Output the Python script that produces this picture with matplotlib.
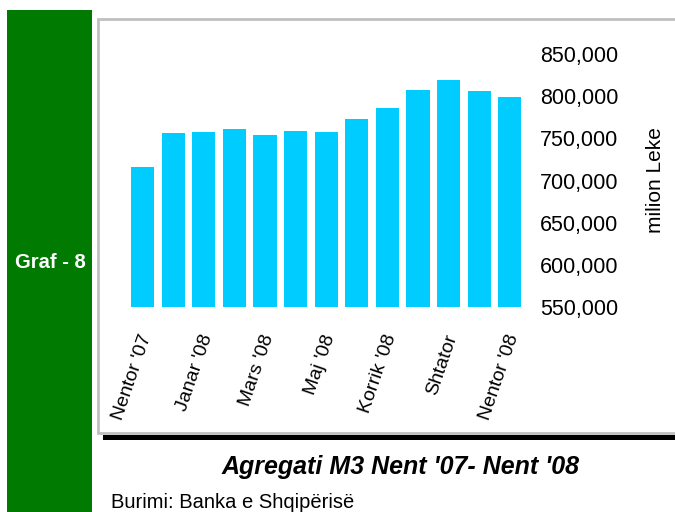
import matplotlib.pyplot as plt
import matplotlib.transforms as mtransforms
from matplotlib.patches import Rectangle
from matplotlib.ticker import FuncFormatter
import numpy as np

months = ["Nentor '07", "Dhjetor '07", "Janar '08", "Shkurt '08", "Mars '08", "Prill '08",
          "Maj '08", "Qershor '08", "Korrik '08", "Gusht '08", "Shtator", "Tetor '08", "Nentor '08"]
m3 = [716000, 756000, 757500, 761000, 754000, 758500, 757500,
      773000, 786000, 807500, 819000, 806000, 799000]
yticks = [550000, 600000, 650000, 700000, 750000, 800000, 850000]

W, H = 675, 512
fig = plt.figure(figsize=(W / 100, H / 100), dpi=100)
fig.patch.set_facecolor('white')
fam = ['Liberation Sans', 'DejaVu Sans']

def fx(px):
    return px / W

def fy(py):
    return 1 - py / H

# green side bar
fig.add_artist(Rectangle((fx(7), 0), fx(92) - fx(7), fy(10), transform=fig.transFigure,
                         facecolor='#007A00', edgecolor='none', zorder=-2))
fig.text(fx(50), fy(263), 'Graf - 8', color='white', fontsize=14.5, fontweight='bold',
         family=fam, ha='center', va='center')

# chart box with shadow line
fig.add_artist(Rectangle((fx(103), fy(440)), fx(700) - fx(103), fy(435) - fy(440),
                         transform=fig.transFigure, facecolor='black', edgecolor='none', zorder=-2))
fig.add_artist(Rectangle((fx(98), fy(433)), fx(700) - fx(98), fy(19) - fy(433),
                         transform=fig.transFigure, facecolor='white', edgecolor='#C0C0C0',
                         linewidth=2, zorder=-1))

ax = fig.add_axes([fx(115), fy(307), fx(530) - fx(115), fy(54) - fy(307)])
ax.set_zorder(2)
ax.set_facecolor('none')
x = np.arange(len(months))
ax.bar(x, m3, width=0.755, color='#00CCFF')
ax.set_ylim(550000, 850000)
ax.set_xlim(-0.9, 12.66)
for s in ax.spines.values():
    s.set_visible(False)

ax.yaxis.tick_right()
ax.set_yticks(yticks)
ax.yaxis.set_major_formatter(FuncFormatter(lambda v, p: f'{int(v):,}'))
ax.tick_params(axis='y', length=0, pad=7, labelsize=15.5)
for t in ax.get_yticklabels():
    t.set_family(fam)
ax.yaxis.set_label_position('right')
ax.set_ylabel('milion Leke', fontsize=15, family=fam, labelpad=20)

ax.set_xticks(x[::2])
ax.set_xticklabels(months[::2], rotation=71, rotation_mode='anchor', ha='right', va='center',
                   fontsize=14, family=fam)
ax.tick_params(axis='x', length=0, pad=20)
shift = mtransforms.ScaledTranslation(4 / 100, 0, fig.dpi_scale_trans)
for t in ax.get_xticklabels():
    t.set_transform(t.get_transform() + shift)

fig.text(fx(401), fy(467), "Agregati M3 Nent '07- Nent '08", fontsize=18, fontweight='bold',
         style='italic', family=fam, ha='center', va='center')
fig.text(fx(111), fy(502), 'Burimi: Banka e Shqipërisë', fontsize=14.5,
         family=fam, ha='left', va='center')

fig.savefig('out.png', dpi=100)
